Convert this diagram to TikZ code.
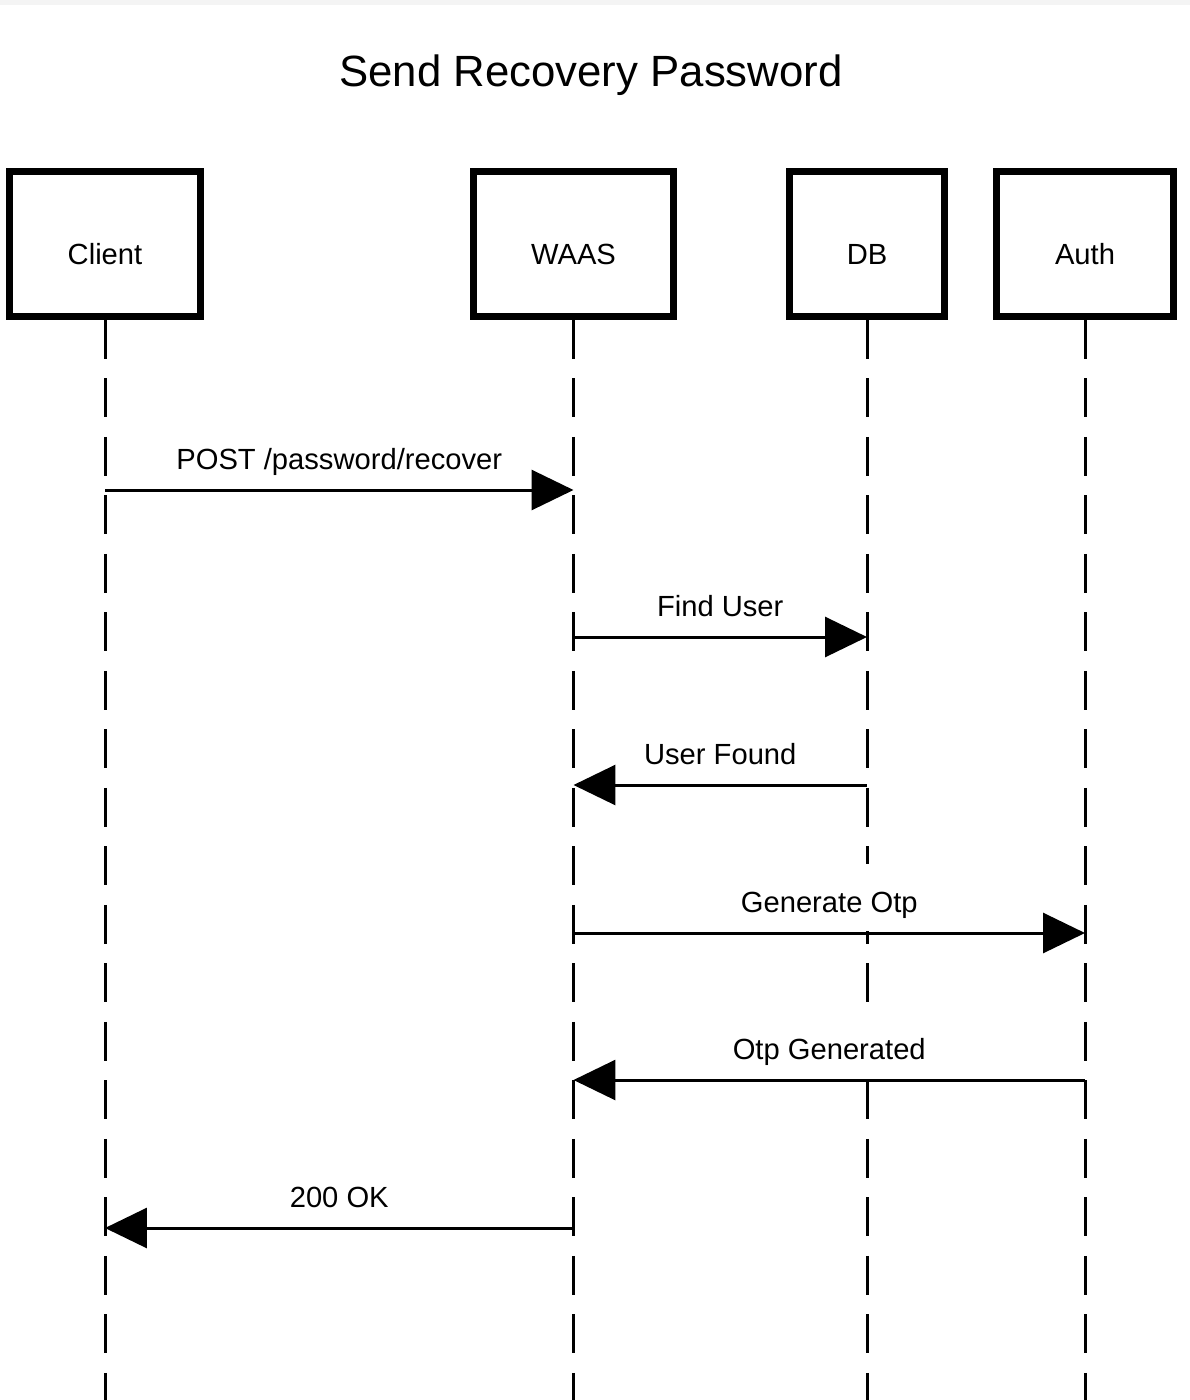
\documentclass[tikz,border=0pt]{standalone}
\usepackage{fontspec}
\setmainfont{Liberation Sans}
\usetikzlibrary{arrows.meta, positioning, calc}
\usepackage{xcolor}
\definecolor{seqBlack}{RGB}{0, 0, 0}
\definecolor{seqBar}{RGB}{244, 244, 244}

\begin{document}
\begin{tikzpicture}[
    x=0.02cm, y=-0.02cm,
    participant/.style={
        rectangle,
        minimum height=2.9cm,
        text height=0.8cm,
        text depth=0pt,
        align=center,
        font=\fontsize{16.6}{20}\selectfont,
        draw=seqBlack,
        fill=white,
        line width=0.14cm
    },
    lifeline/.style={
        draw=seqBlack,
        line width=0.06cm,
        dash pattern=on 0.78cm off 0.39cm
    },
    msg/.style={
        draw=seqBlack,
        line width=0.06cm,
        -{Triangle[length=0.84cm, width=0.8cm]}
    },
    msglabel/.style={
        font=\fontsize{16.6}{20}\selectfont,
        anchor=base,
        yshift=0.41cm,
        fill=white,
        text height=0.98cm,
        text depth=0.36cm,
        inner ysep=0pt,
        inner xsep=0.1cm
    }
]

\useasboundingbox (0,0) rectangle (1190,1400);
\fill[seqBar] (0,0) rectangle (1190,5);

% Title
\node[font=\fontsize{24.9}{30}\selectfont, anchor=base] (title) at (591, 86) {Send Recovery Password};

% Participants
\node[participant, minimum width=3.82cm] (client) at (105, 244) {Client};
\node[participant, minimum width=4.0cm] (waas) at (573.5, 244) {WAAS};
\node[participant, minimum width=3.1cm] (db) at (867, 244) {DB};
\node[participant, minimum width=3.54cm] (auth) at (1085, 244) {Auth};

% Lifelines
\coordinate (bottom) at (0, 1400);
\foreach \p in {client, waas, db, auth} {
    \draw[lifeline] (\p.south) -- (\p.south |- bottom);
}

% Message rows
\coordinate (r1) at (0, 490);
\coordinate (r2) at (0, 637);
\coordinate (r3) at (0, 785);
\coordinate (r4) at (0, 933);
\coordinate (r5) at (0, 1080);
\coordinate (r6) at (0, 1228);

% Messages
\draw[msg] (client |- r1) -- node[msglabel] {POST /password/recover} (waas |- r1);
\draw[msg] (waas |- r2) -- node[msglabel] {Find User} (db |- r2);
\draw[msg] (db |- r3) -- node[msglabel] {User Found} (waas |- r3);
\draw[msg] (waas |- r4) -- node[msglabel] {Generate Otp} (auth |- r4);
\draw[msg] (auth |- r5) -- node[msglabel] {Otp Generated} (waas |- r5);
\draw[msg] (waas |- r6) -- node[msglabel] {200 OK} (client |- r6);

\end{tikzpicture}
\end{document}
